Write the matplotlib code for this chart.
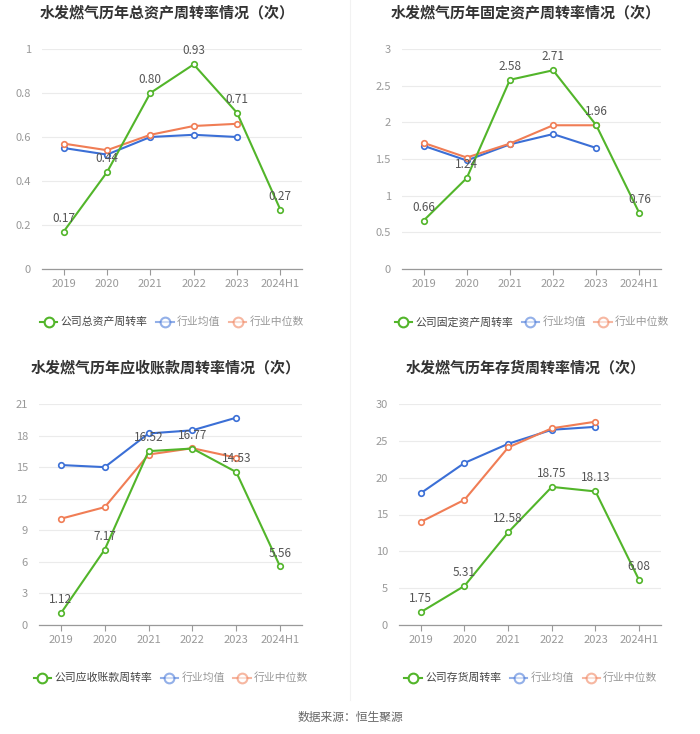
"""水发燃气 turnover ratios — four small line charts in a 2x2 grid."""
import matplotlib
matplotlib.use("Agg")
import matplotlib.pyplot as plt
from matplotlib.lines import Line2D

plt.rcParams["font.family"] = ["Noto Sans CJK SC", "DejaVu Sans"]

years = ["2019", "2020", "2021", "2022", "2023", "2024H1"]

# total assets turnover
total_co = [0.17, 0.44, 0.80, 0.93, 0.71, 0.27]
total_avg = [0.55, 0.52, 0.60, 0.61, 0.60]
total_med = [0.57, 0.54, 0.61, 0.65, 0.66]

# fixed assets turnover
fixed_co = [0.66, 1.24, 2.58, 2.71, 1.96, 0.76]
fixed_avg = [1.68, 1.48, 1.70, 1.84, 1.65]
fixed_med = [1.72, 1.52, 1.71, 1.96, 1.96]

# receivables turnover
recv_co = [1.12, 7.17, 16.52, 16.77, 14.53, 5.56]
recv_avg = [15.2, 15.0, 18.2, 18.5, 19.7]
recv_med = [10.1, 11.2, 16.2, 16.8, 15.9]

# inventory turnover
inv_co = [1.75, 5.31, 12.58, 18.75, 18.13, 6.08]
inv_avg = [17.9, 22.0, 24.6, 26.5, 26.9]
inv_med = [14.0, 17.0, 24.1, 26.7, 27.6]

GREEN = "#52b52a"
BLUE = "#3b6fd6"
ORANGE = "#f07d55"

W, H = 700, 734

panels = [
    dict(title="水发燃气历年总资产周转率情况（次）", name="公司总资产周转率",
         co=total_co, avg=total_avg, med=total_med,
         yticks=[0, 0.2, 0.4, 0.6, 0.8, 1], ylabels=["0", "0.2", "0.4", "0.6", "0.8", "1"],
         box=(42, 49, 260, 220), title_xy=(167, 12), leg_xy=(172, 322)),
    dict(title="水发燃气历年固定资产周转率情况（次）", name="公司固定资产周转率",
         co=fixed_co, avg=fixed_avg, med=fixed_med,
         yticks=[0, 0.5, 1, 1.5, 2, 2.5, 3], ylabels=["0", "0.5", "1", "1.5", "2", "2.5", "3"],
         box=(402, 49, 259, 220), title_xy=(526, 12), leg_xy=(532, 322)),
    dict(title="水发燃气历年应收账款周转率情况（次）", name="公司应收账款周转率",
         co=recv_co, avg=recv_avg, med=recv_med,
         yticks=[0, 3, 6, 9, 12, 15, 18, 21], ylabels=None,
         box=(39, 404, 263, 221), title_xy=(166, 367), leg_xy=(171, 678)),
    dict(title="水发燃气历年存货周转率情况（次）", name="公司存货周转率",
         co=inv_co, avg=inv_avg, med=inv_med,
         yticks=[0, 5, 10, 15, 20, 25, 30], ylabels=None,
         box=(399, 404, 262, 221), title_xy=(526, 367), leg_xy=(531, 678)),
]

fig = plt.figure(figsize=(7.0, 7.34), dpi=100)

for p in panels:
    x0, y0, w, h = p["box"]
    ax = fig.add_axes([x0 / W, (H - y0 - h) / H, w / W, h / H])
    xs = list(range(len(years)))
    n = len(p["avg"])

    ax.plot(xs[:n], p["avg"], color=BLUE, lw=1.5, marker="o", ms=4,
            mfc="white", mec=BLUE, mew=1.2, zorder=3)
    ax.plot(xs[:n], p["med"], color=ORANGE, lw=1.5, marker="o", ms=4,
            mfc="white", mec=ORANGE, mew=1.2, zorder=3)
    ax.plot(xs, p["co"], color=GREEN, lw=1.5, marker="o", ms=4,
            mfc="white", mec=GREEN, mew=1.2, zorder=4)
    for xi, v in zip(xs, p["co"]):
        ax.annotate(f"{v:.2f}", (xi, v), xytext=(0, 5), textcoords="offset points",
                    ha="center", va="bottom", fontsize=8.5, color="#555555", zorder=5)

    ax.set_xlim(-0.5, len(years) - 0.5)
    ax.set_ylim(p["yticks"][0], p["yticks"][-1])
    ax.set_yticks(p["yticks"])
    if p["ylabels"]:
        ax.set_yticklabels(p["ylabels"])
    ax.set_xticks(xs)
    ax.set_xticklabels(years)
    ax.tick_params(axis="x", colors="#999999", labelsize=8, length=4, width=0.8,
                   pad=3, labelcolor="#999999")
    ax.tick_params(axis="y", length=0, labelsize=8, labelcolor="#999999", pad=8)
    ax.grid(axis="y", color="#ebebeb", lw=0.8)
    ax.set_axisbelow(True)
    for s in ("top", "right", "left"):
        ax.spines[s].set_visible(False)
    ax.spines["bottom"].set_color("#999999")
    ax.spines["bottom"].set_linewidth(0.9)

    tx, ty = p["title_xy"]
    fig.text(tx / W, 1 - ty / H, p["title"], ha="center", va="center",
             fontsize=10.8, fontweight="bold", color="#333333")

    handles = [
        Line2D([], [], color=GREEN, lw=1.5, marker="o", ms=7, mfc="white", mec=GREEN, mew=1.5),
        Line2D([], [], color=BLUE, lw=1.5, marker="o", ms=7, mfc="white", mec=BLUE,
               mew=1.5, alpha=0.55),
        Line2D([], [], color=ORANGE, lw=1.5, marker="o", ms=7, mfc="white", mec=ORANGE,
               mew=1.5, alpha=0.55),
    ]
    lx, ly = p["leg_xy"]
    leg = fig.legend(handles, [p["name"], "行业均值", "行业中位数"], loc="center",
                     bbox_to_anchor=(lx / W, 1 - ly / H), ncol=3, frameon=False,
                     fontsize=7.8, handlelength=1.6, handletextpad=0.3, columnspacing=0.8)
    for t, c in zip(leg.get_texts(), ["#444444", "#999999", "#999999"]):
        t.set_color(c)

# thin divider between left and right panels
fig.add_artist(Line2D([350 / W, 350 / W], [1 - 700 / H, 1], color="#f2f2f2", lw=0.8))

fig.text(350 / W, 1 - 717 / H, "数据来源：恒生聚源", ha="center", va="center",
         fontsize=8.5, color="#666666")

fig.savefig("out.png", dpi=100)
